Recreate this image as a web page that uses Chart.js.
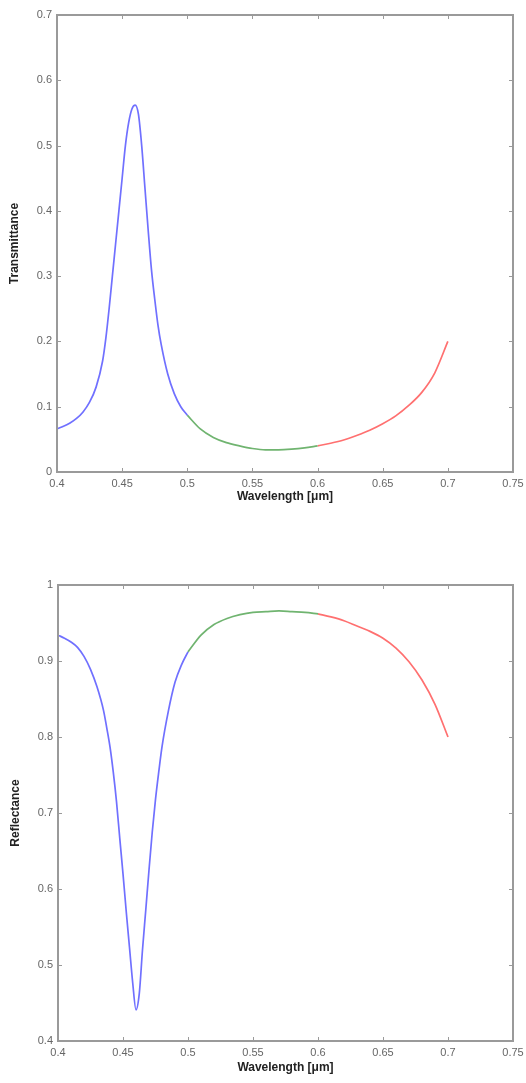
<!DOCTYPE html>
<html>
<head>
<meta charset="utf-8">
<script src="https://cdn.jsdelivr.net/npm/chart.js"></script>
<style>
  body { margin: 0; background: #fff; }
  .box { position: absolute; left: 0; width: 526px; }
</style>
</head>
<body>
<div class="box" style="top:0;height:510px"><canvas id="transChart" width="526" height="510"></canvas></div>
<div class="box" style="top:545px;height:538px"><canvas id="reflChart" width="526" height="538"></canvas></div>
<script>
// wavelength grids (um) for each coloured band
var blueWl = [0.400, 0.405, 0.410, 0.415, 0.420, 0.425, 0.430, 0.435, 0.4375, 0.440, 0.4425, 0.445, 0.4475, 0.450,
    0.4525, 0.455, 0.4575, 0.460, 0.4625, 0.465, 0.4675, 0.470, 0.4725, 0.475, 0.4775, 0.480, 0.485, 0.490, 0.495, 0.500];
var greenWl = [0.50, 0.51, 0.52, 0.53, 0.54, 0.55, 0.56, 0.57, 0.58, 0.59, 0.60];
var redWl = [0.60, 0.61, 0.62, 0.63, 0.64, 0.65, 0.66, 0.67, 0.68, 0.69, 0.70];

// transmittance
var transBlue = [0.066, 0.070, 0.075, 0.082, 0.092, 0.107, 0.130, 0.170, 0.205, 0.250, 0.300, 0.350, 0.400, 0.450,
    0.500, 0.535, 0.556, 0.562, 0.548, 0.500, 0.435, 0.370, 0.310, 0.265, 0.225, 0.195, 0.150, 0.120, 0.100, 0.087];
var transGreen = [0.087, 0.066, 0.053, 0.045, 0.040, 0.036, 0.034, 0.034, 0.035, 0.037, 0.040];
var transRed = [0.040, 0.044, 0.049, 0.056, 0.064, 0.074, 0.086, 0.102, 0.122, 0.152, 0.200];

// reflectance
var reflBlue = [0.934, 0.930, 0.925, 0.918, 0.906, 0.889, 0.866, 0.835, 0.812, 0.787, 0.754, 0.715, 0.667, 0.620,
    0.570, 0.523, 0.476, 0.441, 0.462, 0.520, 0.572, 0.625, 0.675, 0.718, 0.754, 0.787, 0.835, 0.872, 0.895, 0.912];
var reflGreen = [0.912, 0.934, 0.948, 0.956, 0.961, 0.964, 0.965, 0.966, 0.965, 0.964, 0.962];
var reflRed = [0.962, 0.958, 0.953, 0.946, 0.939, 0.930, 0.917, 0.899, 0.875, 0.843, 0.800];

// tick labels
var xTicks = [0.4, 0.45, 0.5, 0.55, 0.6, 0.65, 0.7, 0.75];
var transTicks = [0, 0.1, 0.2, 0.3, 0.4, 0.5, 0.6, 0.7];
var reflTicks = [0.4, 0.5, 0.6, 0.7, 0.8, 0.9, 1];

function pts(xs, ys) {
    return xs.map(function (x, i) { return { x: x, y: ys[i] }; });
}

function line(color, xs, ys) {
    return {
        data: pts(xs, ys),
        borderColor: color,
        borderWidth: 1.7,
        pointRadius: 0,
        cubicInterpolationMode: 'monotone',
        fill: false
    };
}

// box round the plot with matlab style inward ticks
var framePlugin = {
    id: 'frame',
    afterDatasetsDraw: function (chart) {
        var ctx = chart.ctx, a = chart.chartArea, x = chart.scales.x, y = chart.scales.y;
        ctx.save();
        ctx.strokeStyle = '#9a9a9a';
        ctx.lineWidth = 1;
        ctx.beginPath();
        x.ticks.forEach(function (t) {
            var px = Math.round(x.getPixelForValue(t.value)) + 0.5;
            ctx.moveTo(px, a.bottom); ctx.lineTo(px, a.bottom - 4);
            ctx.moveTo(px, a.top); ctx.lineTo(px, a.top + 4);
        });
        y.ticks.forEach(function (t) {
            var py = Math.round(y.getPixelForValue(t.value)) + 0.5;
            ctx.moveTo(a.left, py); ctx.lineTo(a.left + 4, py);
            ctx.moveTo(a.right, py); ctx.lineTo(a.right - 4, py);
        });
        ctx.stroke();
        ctx.lineWidth = 2;
        ctx.strokeRect(a.left, a.top, a.right - a.left, a.bottom - a.top);
        ctx.restore();
    }
};

var tickFont = { family: 'Liberation Sans, Arial, sans-serif', size: 11 };
var titleFont = { family: 'Liberation Sans, Arial, sans-serif', size: 12, weight: 'bold' };

function makeChart(id, datasets, yTitle, yTicks, yMin, yMax, pad, xHeight, titleBottom) {
    var ctx = document.getElementById(id).getContext('2d');
    return new Chart(ctx, {
        type: 'line',
        data: { datasets: datasets },
        plugins: [framePlugin],
        options: {
            responsive: false,
            animation: false,
            layout: { padding: pad },
            plugins: { legend: { display: false }, tooltip: { enabled: false } },
            scales: {
                x: {
                    type: 'linear',
                    min: 0.4,
                    max: 0.75,
                    afterBuildTicks: function (s) { s.ticks = xTicks.map(function (v) { return { value: v }; }); },
                    afterFit: function (s) { s.height = xHeight; s.paddingRight = 0; },
                    grid: { display: false, drawTicks: false, tickLength: 0 },
                    border: { display: false },
                    ticks: { color: '#666', font: tickFont, padding: 5, maxRotation: 0,
                        callback: function (v) { return String(+v.toFixed(2)); } },
                    title: { display: true, text: 'Wavelength [\u03bcm]', color: '#222', font: titleFont,
                        padding: { top: 0, bottom: titleBottom } }
                },
                y: {
                    min: yMin,
                    max: yMax,
                    afterBuildTicks: function (s) { s.ticks = yTicks.map(function (v) { return { value: v }; }); },
                    afterFit: function (s) { s.width = 57; },
                    grid: { display: false, drawTicks: false, tickLength: 0 },
                    border: { display: false },
                    ticks: { color: '#666', font: tickFont, padding: 5,
                        callback: function (v) { return String(+v.toFixed(2)); } },
                    title: { display: true, text: yTitle, color: '#222', font: titleFont,
                        padding: { top: 7, bottom: 0 } }
                }
            }
        }
    });
}

makeChart('transChart', [
    line('#7070ff', blueWl, transBlue),
    line('#70b470', greenWl, transGreen),
    line('#ff7070', redWl, transRed)
], 'Transmittance', transTicks, 0, 0.7, { top: 15, right: 13, left: 0, bottom: 0 }, 38, 6);

makeChart('reflChart', [
    line('#7070ff', blueWl, reflBlue),
    line('#70b470', greenWl, reflGreen),
    line('#ff7070', redWl, reflRed)
], 'Reflectance', reflTicks, 0.4, 1, { top: 40, right: 13, left: 1, bottom: 0 }, 42, 8);
</script>
</body>
</html>
